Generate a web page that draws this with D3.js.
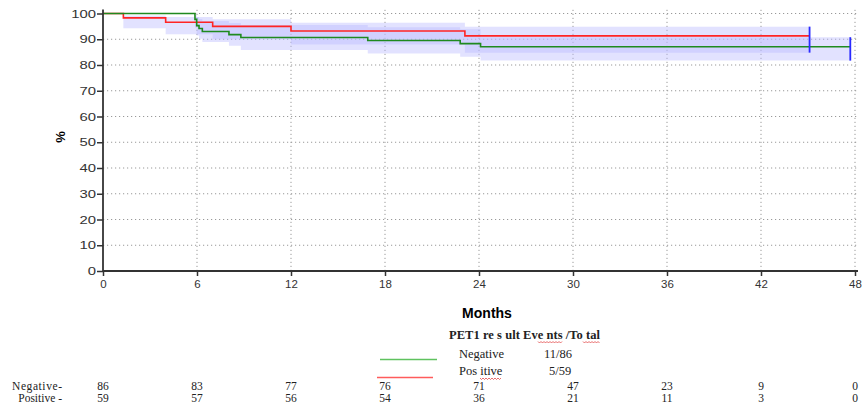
<!DOCTYPE html>
<html>
<head>
<meta charset="utf-8">
<script src="https://cdn.jsdelivr.net/npm/d3@7"></script>
<style>
  body { margin: 0; background: #fff; }
  svg { display: block; }
  .tick text { font-family: Arial, "Liberation Sans", sans-serif; fill: #333; }
  .serif { font-family: "Times New Roman", "Liberation Serif", serif; fill: #222; }
</style>
</head>
<body>
<svg class="canvas" width="864" height="403"></svg>
<script>
'use strict';

// Kaplan-Meier estimates (months, %).
const posTimes = [0, 1.3, 4.0, 7.0, 12.0, 23.1, 45.1];
const posSurv = [100, 98.3, 96.6, 95.0, 93.2, 91.3, 91.3];
const posLow = [100, 94.3, 91.9, 90.0, 88.0, 84.8, 84.8];
const posHigh = [100, 99.2, 98.6, 97.8, 96.4, 94.9, 94.9];

const negTimes = [0, 5.87, 5.98, 6.13, 6.34, 8.04, 8.8, 16.9, 22.8, 24.1, 47.7];
const negSurv = [100, 97.7, 95.3, 94.2, 93.0, 91.8, 90.7, 89.5, 88.3, 87.1, 87.1];
const negLow = [100, 94.5, 91.5, 90.2, 88.9, 87.5, 85.8, 84.5, 83.2, 81.7, 81.7];
const negHigh = [100, 99.4, 98.6, 97.9, 97.1, 96.3, 95.5, 94.7, 93.9, 90.8, 90.8];

// Numbers at risk.
const riskMonths = [0, 6, 12, 18, 24, 30, 36, 42, 48];
const riskNegative = [86, 83, 77, 76, 71, 47, 23, 9, 0];
const riskPositive = [59, 57, 56, 54, 36, 21, 11, 3, 0];

const xTicks = [0, 6, 12, 18, 24, 30, 36, 42, 48];
const yTicks = [0, 10, 20, 30, 40, 50, 60, 70, 80, 90, 100];

const svg = d3.select('.canvas');
const x = d3.scaleLinear([0, 48], [103, 855]);
const y = d3.scaleLinear([0, 100], [271, 13.5]);

// Dotted grid.
const grid = svg.append('g').attr('stroke', '#999').attr('stroke-dasharray', '1.2,2.8').attr('stroke-width', 1);
grid.selectAll('line.h').data(yTicks.slice(1)).enter().append('line')
  .attr('x1', x(0)).attr('x2', x(48) + 4)
  .attr('y1', d => y(d)).attr('y2', d => y(d));
grid.selectAll('line.v').data(xTicks.slice(1)).enter().append('line')
  .attr('x1', d => x(d)).attr('x2', d => x(d))
  .attr('y1', y(0)).attr('y2', y(100) - 5);

const toRows = (t, s, lo, hi) => t.map((d, i) => ({ t: d, s: s[i], lo: lo[i], hi: hi[i] }));
const groups = [
  { rows: toRows(negTimes, negSurv, negLow, negHigh), color: '#1f8a1f' },
  { rows: toRows(posTimes, posSurv, posLow, posHigh), color: '#ff2424' },
];

// Confidence bands.
const band = d3.area().curve(d3.curveStepAfter)
  .x(d => x(d.t)).y0(d => y(d.lo)).y1(d => y(d.hi));
groups.forEach(g => {
  svg.append('path').datum(g.rows)
    .attr('d', band)
    .attr('fill', 'rgb(185,185,255)')
    .attr('fill-opacity', 0.42);
});

// Survival curves.
const line = d3.line().curve(d3.curveStepAfter).x(d => x(d.t)).y(d => y(d.s));
groups.slice().reverse().forEach(g => {
  svg.append('path').datum(g.rows)
    .attr('d', line)
    .attr('fill', 'none')
    .attr('stroke', g.color)
    .attr('stroke-width', 1.6);
});

// End-of-follow-up CI markers.
groups.forEach(g => {
  const last = g.rows[g.rows.length - 1];
  svg.append('line')
    .attr('x1', x(last.t)).attr('x2', x(last.t))
    .attr('y1', y(last.lo)).attr('y2', y(last.hi))
    .attr('stroke', '#2a2aff').attr('stroke-width', 1.8);
});

// Axes.
const xAxis = svg.append('g')
  .attr('transform', `translate(0,${y(0)})`)
  .call(d3.axisBottom(x).tickValues(xTicks).tickSize(5).tickPadding(4).tickSizeOuter(0));
xAxis.selectAll('text').attr('font-size', 11.5);

const yAxis = svg.append('g')
  .attr('transform', `translate(${x(0)},0)`)
  .call(d3.axisLeft(y).tickValues(yTicks).tickSize(6).tickSizeOuter(0));
yAxis.selectAll('text')
  .attr('font-size', 11)
  .attr('x', -7 / 1.35)
  .attr('transform', 'scale(1.35,1)');

[xAxis, yAxis].forEach(a => {
  a.select('.domain').attr('stroke', '#333').attr('stroke-width', 1.8);
  a.selectAll('.tick line').attr('stroke', '#333').attr('stroke-width', 1.5);
});
xAxis.select('.domain').attr('d', `M${x(0)},0H${x(48) + 3}`);
yAxis.select('.domain').attr('d', `M0,${y(100) - 4}V${y(0)}`);

// Axis titles.
svg.append('text')
  .attr('transform', `translate(65,137) rotate(-90)`)
  .attr('text-anchor', 'middle')
  .attr('font-family', 'Arial, "Liberation Sans", sans-serif')
  .attr('font-weight', 'bold').attr('font-size', 13)
  .text('%');
svg.append('text')
  .attr('x', 487).attr('y', 318)
  .attr('text-anchor', 'middle')
  .attr('font-family', 'Arial, "Liberation Sans", sans-serif')
  .attr('font-weight', 'bold').attr('font-size', 14)
  .text('Months');

// Legend.
const legend = svg.append('g');
legend.append('text').attr('class', 'serif')
  .attr('x', 449).attr('y', 339).attr('font-weight', 'bold').attr('font-size', 12.5)
  .attr('xml:space', 'preserve')
  .attr('textLength', 151).attr('lengthAdjust', 'spacing')
  .text('PET1 re s ult Eve nts /To tal');
legend.append('line').attr('x1', 380).attr('x2', 437).attr('y1', 359.5).attr('y2', 359.5)
  .attr('stroke', '#5fc25f').attr('stroke-width', 1.5);
legend.append('line').attr('x1', 377).attr('x2', 433).attr('y1', 377.5).attr('y2', 377.5)
  .attr('stroke', '#ff5c5c').attr('stroke-width', 1.5);
legend.append('text').attr('class', 'serif').attr('x', 459).attr('y', 358).attr('font-size', 12.5).text('Negative');
legend.append('text').attr('class', 'serif').attr('x', 544).attr('y', 358).attr('font-size', 12.5).text('11/86');
legend.append('text').attr('class', 'serif').attr('x', 459).attr('y', 375).attr('font-size', 12.5)
  .attr('xml:space', 'preserve').text('Pos itive');
legend.append('text').attr('class', 'serif').attr('x', 549).attr('y', 375).attr('font-size', 12.5).text('5/59');

// Spell-check squiggles.
const squiggles = [[538, 563, 342], [583, 600, 342], [480, 502, 378.5]];
squiggles.forEach(([a, b, yy]) => {
  const pts = d3.range(a, b + 0.1, 1.5).map((px, i) => [px, yy + (i % 2 ? 1 : -0.5)]);
  svg.append('path').attr('d', d3.line()(pts))
    .attr('fill', 'none').attr('stroke', '#e03030').attr('stroke-width', 0.7);
});

// Numbers at risk table.
const risk = svg.append('g').attr('font-size', 11.5);
risk.append('text').attr('class', 'serif').attr('x', 62).attr('y', 389.5).attr('text-anchor', 'end')
  .attr('textLength', 50).attr('lengthAdjust', 'spacing').text('Negative-');
risk.append('text').attr('class', 'serif').attr('x', 62).attr('y', 401.5).attr('text-anchor', 'end')
  .attr('xml:space', 'preserve').text('Positive -');
risk.selectAll('text.neg').data(riskMonths).enter().append('text')
  .attr('class', 'serif neg').attr('text-anchor', 'middle')
  .attr('x', d => x(d)).attr('y', 389.5)
  .text((d, i) => riskNegative[i]);
risk.selectAll('text.pos').data(riskMonths).enter().append('text')
  .attr('class', 'serif pos').attr('text-anchor', 'middle')
  .attr('x', d => x(d)).attr('y', 401.5)
  .text((d, i) => riskPositive[i]);
</script>
</body>
</html>
